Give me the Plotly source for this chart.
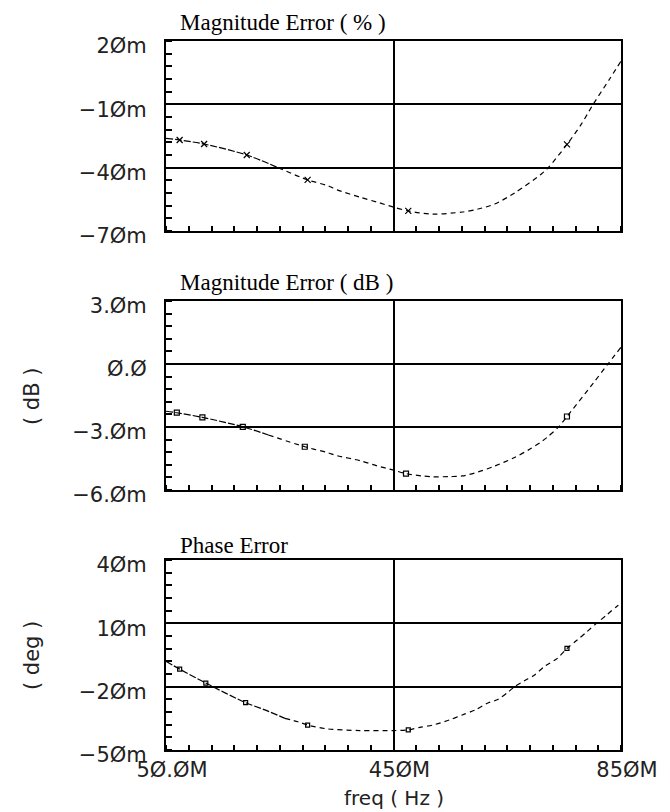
import plotly.graph_objects as go
import numpy as np

# ---------------- data ----------------
freq_mag_pct = [50, 74, 117, 192, 247, 299, 334, 351, 391, 421, 450, 476, 519, 571, 599, 628, 663, 710, 722, 755, 780, 801, 830, 850]
mag_pct_err = [-26.1, -26.9, -28.8, -34.0, -40.0, -45.8, -48.5, -50.5, -54.0, -56.3, -58.7, -60.5, -62.0, -61.0, -59.6, -57.2, -52.0, -43.0, -40.0, -29.0, -19.5, -10.0, 2.0, 10.5]
mkr_freq_pct = [74, 117, 192, 299, 476, 755]
mkr_pct = [-26.9, -28.8, -34.0, -45.8, -60.5, -29.0]

freq_mag_db = [50, 69, 114, 185, 230, 294, 334, 351, 391, 421, 450, 472, 500, 519, 550, 571, 599, 628, 663, 690, 710, 722, 740, 755, 801, 827, 850]
mag_db_err = [-2.25, -2.32, -2.54, -2.99, -3.38, -3.94, -4.22, -4.37, -4.60, -4.85, -5.05, -5.22, -5.33, -5.37, -5.36, -5.33, -5.14, -4.86, -4.45, -4.05, -3.70, -3.45, -3.00, -2.50, -0.92, 0.0, 0.8]
mkr_freq_db = [69, 114, 185, 294, 472, 755]
mkr_db = [-2.32, -2.54, -2.99, -3.94, -5.22, -2.50]

freq_phase = [50, 74, 120, 190, 224, 259, 282, 299, 334, 391, 450, 476, 496, 519, 548, 571, 594, 617, 634, 652, 663, 680, 698, 715, 738, 755, 773, 790, 807, 825, 842, 850]
phase_err = [-8.0, -11.7, -18.3, -27.6, -31.0, -35.0, -36.6, -38.2, -40.0, -40.8, -40.8, -40.5, -39.3, -38.2, -35.8, -33.4, -31.0, -27.6, -26.0, -22.4, -20.0, -17.2, -14.5, -10.5, -6.6, -1.9, 2.1, 6.0, 10.0, 14.0, 17.9, 19.5]
mkr_freq_ph = [74, 120, 190, 299, 476, 755]
mkr_ph = [-11.7, -18.3, -27.6, -38.2, -40.5, -1.9]

x_tickvals = [50, 450, 850]
x_ticktext = ["5Ø.ØM", "45ØM", "85ØM"]

y1_tickvals = [20, -10, -40, -70]
y1_ticktext = ["2Øm", "−1Øm", "−4Øm", "−7Øm"]
y2_tickvals = [3, 0, -3, -6]
y2_ticktext = ["3.Øm", "Ø.Ø", "−3.Øm", "−6.Øm"]
y3_tickvals = [40, 10, -20, -50]
y3_ticktext = ["4Øm", "1Øm", "−2Øm", "−5Øm"]

titles = ["Magnitude Error ( % )", "Magnitude Error ( dB )", "Phase Error"]
ylabels = ["", "( dB )", "( deg )"]
xlabel = "freq ( Hz )"

# ---------------- figure ----------------
W, H = 670, 812
L, R, T, B = 166, 42, 41, 62
ph = H - T - B
pw = W - L - R

def py(px):  # pixel y -> paper
    return 1 - (px - T) / ph

def pxp(px):
    return (px - L) / pw

domains = [(py(231), py(41)), (py(490), py(301)), (py(750), py(560))]

fig = go.Figure()

panels = [
    (freq_mag_pct, mag_pct_err, mkr_freq_pct, mkr_pct, "x-thin-open", 6),
    (freq_mag_db, mag_db_err, mkr_freq_db, mkr_db, "square-open", 5),
    (freq_phase, phase_err, mkr_freq_ph, mkr_ph, "square-open", 4),
]

for i, (fx, fy, mx, my, sym, ms) in enumerate(panels):
    ax = "" if i == 0 else str(i + 1)
    fx_a = np.array(fx)
    fy_a = np.array(fy)
    dense = fx_a <= 260
    sparse = fx_a >= fx_a[dense][-1]
    fig.add_trace(go.Scatter(x=fx_a[dense], y=fy_a[dense], mode="lines", line=dict(color="black", width=1.2, dash="7px,2px", shape="spline", smoothing=0.8),
                             xaxis="x" + ax, yaxis="y" + ax, showlegend=False, hoverinfo="skip"))
    fig.add_trace(go.Scatter(x=fx_a[sparse], y=fy_a[sparse], mode="lines", line=dict(color="black", width=1.2, dash="5px,4px", shape="spline", smoothing=0.8),
                             xaxis="x" + ax, yaxis="y" + ax, showlegend=False, hoverinfo="skip"))
    fig.add_trace(go.Scatter(x=mx, y=my, mode="markers", marker=dict(symbol=sym, size=ms, color="black", line=dict(color="black", width=1.2)),
                             xaxis="x" + ax, yaxis="y" + ax, showlegend=False))

tickfont = dict(family="DejaVu Sans", size=21, color="#222")
ydefs = [(y1_tickvals, y1_ticktext, -70, 20, 6), (y2_tickvals, y2_ticktext, -6, 3, 0.6), (y3_tickvals, y3_ticktext, -50, 40, 6)]

layout = dict(width=W, height=H, margin=dict(l=L, r=R, t=T, b=B), plot_bgcolor="white", paper_bgcolor="white",
              font=dict(family="DejaVu Sans", color="black"))

for i in range(3):
    ax = "" if i == 0 else str(i + 1)
    tv, tt, lo, hi, mdt = ydefs[i]
    layout["xaxis" + ax] = dict(range=[50, 850], domain=[0, 1], anchor="y" + ax,
                               tickmode="array", tickvals=x_tickvals, ticktext=x_ticktext,
                               showticklabels=(i == 2), ticks="", showgrid=True, gridcolor="black", gridwidth=1.5,
                               showline=True, linecolor="black", linewidth=2, mirror=True, zeroline=False,
                               tickfont=tickfont, ticklabelstandoff=0, ticklabelshift=6,
                               minor=dict(tick0=50, dtick=40, ticks="inside", ticklen=5, tickcolor="black", tickwidth=1.5, showgrid=False))
    layout["yaxis" + ax] = dict(range=[lo, hi], domain=list(domains[i]), anchor="x" + ax,
                               tickmode="array", tickvals=tv, ticktext=tt, ticks="",
                               showgrid=True, gridcolor="black", gridwidth=1.5,
                               showline=True, linecolor="black", linewidth=2, mirror=True, zeroline=False,
                               tickfont=tickfont, ticklabelstandoff=13, ticklabelshift=5,
                               minor=dict(tick0=lo, dtick=mdt, ticks="inside", ticklen=6, tickcolor="black", tickwidth=1.5, showgrid=False))

fig.update_layout(**layout)

title_y = [22, 282, 545]
ylab_y = [None, 397, 656]
for i in range(3):
    fig.add_annotation(text=titles[i], xref="paper", yref="paper", x=pxp(178), y=py(title_y[i]),
                       xanchor="left", yanchor="middle", showarrow=False,
                       font=dict(family="Liberation Serif", size=23, color="black"))
    if ylabels[i]:
        fig.add_annotation(text=ylabels[i], xref="paper", yref="paper", x=pxp(30), y=py(ylab_y[i]),
                           xanchor="center", yanchor="middle", showarrow=False, textangle=-90,
                           font=dict(family="DejaVu Sans", size=21, color="#222"))

fig.add_annotation(text=xlabel, xref="paper", yref="paper", x=pxp(398), y=py(798),
                   xanchor="center", yanchor="middle", showarrow=False,
                   font=dict(family="DejaVu Sans", size=20, color="#222"))

fig.write_html("out.html")
